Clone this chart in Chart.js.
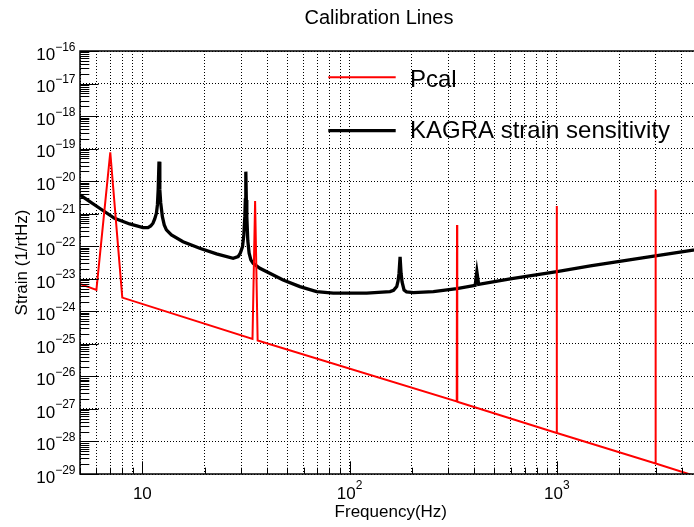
<!DOCTYPE html>
<html><head><meta charset="utf-8">
<script src="https://cdn.jsdelivr.net/npm/chart.js@4.4.1/dist/chart.umd.min.js"></script>
<style>
html,body{margin:0;padding:0;overflow:hidden;background:#fff;width:694px;height:527px}
#wrap{position:absolute;left:0;top:0;width:720px;height:527px}
</style>
</head><body><div id="wrap"><canvas id="c" width="720" height="527"></canvas></div>
<script>
// ---------- data ----------
const chartTitle = 'Calibration Lines';
const xTitle = 'Frequency(Hz)';
const yTitle = 'Strain (1/rtHz)';
const seriesNames = ['Pcal', 'KAGRA strain sensitivity'];
const seriesColors = ['#ff0000', '#000000'];
const xRange = [5, 5000];
const yRange = [1e-29, 1e-16];
const xLabelExponents = [1, 2, 3];
const yLabelExponents = [-29, -28, -27, -26, -25, -24, -23, -22, -21, -20, -19, -18, -17, -16];

const pcalFreq   = [5, 6, 7, 8, 34, 35, 36, 329, 330, 331, 999, 1000, 1001, 2999, 3000, 3001, 5000];
const pcalStrain = [6.95e-24, 4.54e-24, 7.7e-20, 2.64e-24, 1.42e-25, 2.46e-21, 1.26e-25,
                    1.69e-27, 4.5e-22, 1.67e-27, 1.83e-28, 1.73e-21, 1.83e-28,
                    2.1e-29, 5.4e-21, 2.1e-29, 7.5e-30];

const kagraFreq = [5, 6.22, 7.34, 8.68, 10.07, 10.64, 10.97, 11.25, 11.47, 11.69, 11.82, 11.92, 12.03,
                   12.14, 12.26, 12.49, 12.75, 13.06, 13.81, 15.71, 18.92, 22.79, 27.42, 28.98, 29.7,
                   30.43, 30.88, 31.22, 31.4, 31.57, 31.75, 31.92, 32.28, 32.75, 33.38, 34.24, 36.9,
                   47.8, 57.6, 69.3, 83.4, 121, 156.8, 163, 168.9, 171.4, 173.3, 175.3, 177.2, 179.2,
                   183.2, 188.4, 203.3, 253.8, 329.4, 403.7, 411.5, 419.8, 596, 1002, 1452, 2992, 4627, 5000];
const kagraStrain = [3.77e-21, 1.47e-21, 7.24e-22, 4.84e-22, 3.73e-22, 3.73e-22, 4.2e-22, 5.09e-22, 6.9e-22,
                     1.03e-21, 1.86e-21, 5.4e-21, 3.97e-20, 5.4e-21, 2.14e-21, 8.11e-22, 4.5e-22, 3.17e-22,
                     2.22e-22, 1.38e-22, 8.69e-23, 5.8e-23, 4.28e-23, 4.8e-23, 6.2e-23, 9.72e-23, 2.22e-22,
                     8.11e-22, 2.64e-21, 1.96e-20, 2.64e-21, 8.11e-22, 1.45e-22, 6.09e-23, 3.8e-23, 3.0e-23,
                     2.11e-23, 9.22e-24, 5.74e-24, 4.03e-24, 3.6e-24, 3.6e-24, 4.03e-24, 4.39e-24, 5.74e-24,
                     8.6e-24, 1.48e-23, 4.69e-23, 1.48e-23, 8.0e-24, 4.54e-24, 3.95e-24, 3.75e-24, 4.03e-24,
                     5.01e-24, 6.25e-24, 1.66e-23, 6.7e-24, 9.89e-24, 1.66e-23, 2.48e-23, 5.04e-23,
                     7.69e-23, 8.55e-23];

// ---------- helpers ----------
const FONT = "'Liberation Sans', Arial, Helvetica, sans-serif";
const isDecade = v => Math.abs(Math.log10(v) - Math.round(Math.log10(v))) < 1e-6;

function logTicks(min, max) {
  const out = [];
  const e0 = Math.floor(Math.log10(min) + 1e-9), e1 = Math.ceil(Math.log10(max) - 1e-9);
  for (let e = e0; e <= e1; e++) {
    for (let m = 1; m <= 9; m++) {
      const v = m * Math.pow(10, e);
      if (v >= min * (1 - 1e-9) && v <= max * (1 + 1e-9)) out.push({ value: v });
    }
  }
  return out;
}

function drawPow(ctx, exp, x, y, align) {
  const base = '10', sup = (exp < 0 ? '\u2212' : '') + Math.abs(exp);
  ctx.font = '17px ' + FONT;
  const wb = ctx.measureText(base).width;
  ctx.font = '12px ' + FONT;
  const ws = ctx.measureText(sup).width;
  const w = wb + ws;
  const x0 = align === 'right' ? x - w : x - w / 2;
  ctx.textAlign = 'left';
  ctx.textBaseline = 'alphabetic';
  ctx.font = '17px ' + FONT;
  ctx.fillText(base, x0, y);
  ctx.font = '12px ' + FONT;
  ctx.fillText(sup, x0 + wb, y - 9.3);
}

const rootDecor = {
  id: 'rootDecor',
  afterDatasetsDraw(chart) {
    const { ctx, chartArea: a, scales: { x, y } } = chart;
    ctx.save();
    ctx.strokeStyle = '#000';
    ctx.lineWidth = 1;
    ctx.beginPath();
    x.ticks.forEach(t => {
      const px = Math.round(x.getPixelForValue(t.value)) + 0.5;
      const len = isDecade(t.value) ? 12.7 : 6.3;
      ctx.moveTo(px, a.bottom);
      ctx.lineTo(px, a.bottom - len);
    });
    y.ticks.forEach(t => {
      const py = Math.round(y.getPixelForValue(t.value)) + 0.5;
      const len = isDecade(t.value) ? 18.6 : 9.3;
      ctx.moveTo(a.left, py);
      ctx.lineTo(a.left + len, py);
    });
    ctx.stroke();
    ctx.lineWidth = 1.5;
    ctx.beginPath();
    ctx.moveTo(a.left, a.bottom); ctx.lineTo(a.left, a.top); ctx.lineTo(a.right, a.top);
    ctx.lineTo(a.right, a.bottom); ctx.closePath();
    ctx.stroke();

    ctx.fillStyle = '#000';
    yLabelExponents.forEach(e => {
      const py = y.getPixelForValue(Math.pow(10, e));
      drawPow(ctx, e, a.left - 4.5, py + 8.8, 'right');
    });
    xLabelExponents.forEach(e => {
      const px = x.getPixelForValue(Math.pow(10, e));
      if (e === 1) {
        ctx.font = '17px ' + FONT;
        ctx.textAlign = 'center';
        ctx.textBaseline = 'alphabetic';
        ctx.fillText('10', px, a.bottom + 24.5);
      } else {
        drawPow(ctx, e, px, a.bottom + 24.5, 'center');
      }
    });
    ctx.font = '17px ' + FONT;
    ctx.textAlign = 'center';
    ctx.textBaseline = 'alphabetic';
    ctx.fillText(xTitle, (a.left + a.right) / 2, a.bottom + 43.3);
    ctx.save();
    ctx.translate(26.5, (a.top + a.bottom) / 2);
    ctx.rotate(-Math.PI / 2);
    ctx.fillText(yTitle, 0, 0);
    ctx.restore();
    ctx.font = '20px ' + FONT;
    ctx.textAlign = 'left';
    ctx.fillText(chartTitle, 304.5, 24.3);
    const rows = [{ ly: 77.3, ty: 87.3, w: 2 }, { ly: 130.7, ty: 138.3, w: 3.3 }];
    chart.data.datasets.forEach((ds, i) => {
      const r = rows[i];
      ctx.strokeStyle = ds.borderColor;
      ctx.lineWidth = r.w;
      ctx.beginPath();
      ctx.moveTo(328.3, r.ly);
      ctx.lineTo(395.7, r.ly);
      ctx.stroke();
      ctx.fillStyle = '#000';
      ctx.font = '24px ' + FONT;
      ctx.textAlign = 'left';
      ctx.fillText(ds.label, 410, r.ty);
    });
    ctx.restore();
  }
};

const toXY = (fs, vs) => fs.map((f, i) => ({ x: f, y: vs[i] }));

new Chart(document.getElementById('c'), {
  type: 'line',
  data: {
    datasets: [
      { label: seriesNames[0], data: toXY(pcalFreq, pcalStrain), borderColor: seriesColors[0],
        borderWidth: 2, pointRadius: 0, tension: 0, fill: false, clip: 0 },
      { label: seriesNames[1], data: toXY(kagraFreq, kagraStrain), borderColor: seriesColors[1],
        borderWidth: 3.3, pointRadius: 0, tension: 0, fill: false, clip: 0 }
    ]
  },
  options: {
    responsive: false,
    animation: false,
    devicePixelRatio: 1,
    layout: { padding: { top: 51, right: 720 - 701.6, left: 0, bottom: 0 } },
    plugins: { legend: { display: false }, title: { display: false }, tooltip: { enabled: false } },
    scales: {
      x: {
        type: 'logarithmic', min: xRange[0], max: xRange[1],
        afterBuildTicks: s => { s.ticks = logTicks(xRange[0], xRange[1]); },
        afterFit: s => { s.height = 53; },
        ticks: { display: false },
        grid: { color: '#000', lineWidth: 1, drawTicks: false },
        border: { display: false, dash: [1, 2] }
      },
      y: {
        type: 'logarithmic', min: yRange[0], max: yRange[1],
        afterBuildTicks: s => { s.ticks = logTicks(yRange[0], yRange[1]); },
        afterFit: s => { s.width = 80; },
        ticks: { display: false },
        grid: { color: c => (c.tick && isDecade(c.tick.value)) ? '#000' : 'rgba(0,0,0,0)', lineWidth: 1, drawTicks: false },
        border: { display: false, dash: [1, 2] }
      }
    }
  },
  plugins: [rootDecor]
});
</script>
</body></html>
